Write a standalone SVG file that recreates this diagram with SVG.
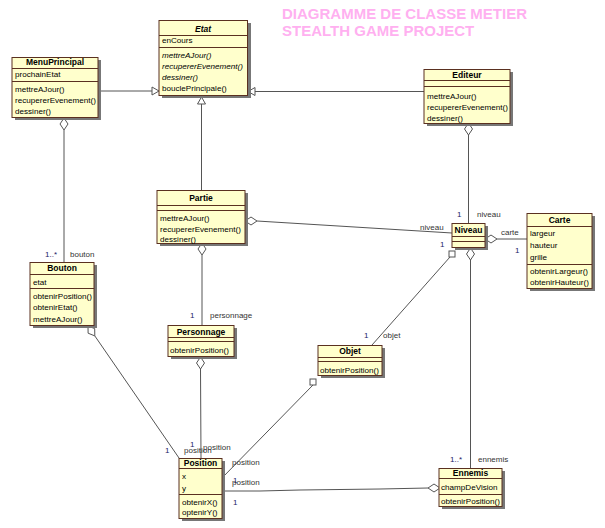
<svg xmlns="http://www.w3.org/2000/svg" width="605" height="528" viewBox="0 0 605 528">
<style>
.bg{fill:#ffffff}
.box{fill:#ffffcc;stroke:#5a3020;stroke-width:1}
.sh{fill:#777777}
.dv{stroke:#5a3020;stroke-width:1}
.t{font-family:"Liberation Sans",Arial,sans-serif;font-size:8.5px;font-weight:bold;text-anchor:middle;fill:#000}
.m{font-family:"Liberation Sans",Arial,sans-serif;font-size:8.1px;fill:#000}
.it{font-style:italic}
.ln{stroke:#555555;stroke-width:1;fill:none}
.dia{fill:#ffffff;stroke:#555555;stroke-width:1}
.lb{font-family:"Liberation Sans",Arial,sans-serif;font-size:8px;fill:#333333}
.n{font-family:"Liberation Sans",Arial,sans-serif;font-size:8px;fill:#1a1a66}
.ttl{font-family:"Liberation Sans",Arial,sans-serif;font-size:15px;font-weight:bold;fill:#ffb0f0}
</style>
<rect class="bg" x="0" y="0" width="605" height="528"/>
<g id="title">
<text class="ttl" x="282" y="19">DIAGRAMME DE CLASSE METIER</text>
<text class="ttl" x="282" y="36">STEALTH GAME PROJECT</text>
</g>
<g id="connectors">
<line class="ln" x1="98" y1="91" x2="152" y2="91"/>
<polygon class="dia" points="159,91 152,87 152,95"/>
<line class="ln" x1="424" y1="91.5" x2="255" y2="91.5"/>
<polygon class="dia" points="248,91.5 255,87.5 255,95.5"/>
<line class="ln" x1="201.5" y1="104" x2="201.5" y2="190"/>
<polygon class="dia" points="201.5,97 197.5,104 205.5,104"/>
<line class="ln" x1="64" y1="130" x2="64" y2="262"/>
<polygon class="dia" points="64,118 68,124 64,130 60,124"/>
<line class="ln" x1="468.5" y1="135" x2="468.5" y2="223"/>
<polygon class="dia" points="468.5,123 472.5,129 468.5,135 464.5,129"/>
<line class="ln" x1="257" y1="221" x2="452" y2="233"/>
<polygon class="dia" points="245,221 251,217 257,221 251,225"/>
<line class="ln" x1="497" y1="239" x2="527" y2="239"/>
<polygon class="dia" points="485,239 491,235 497,239 491,243"/>
<line class="ln" x1="450" y1="257" x2="372" y2="345"/>
<rect class="dia" x="449" y="251" width="6" height="6"/>
<line class="ln" x1="470.5" y1="260" x2="470.5" y2="468"/>
<polygon class="dia" points="470.5,248 474.5,254 470.5,260 466.5,254"/>
<line class="ln" x1="202" y1="255" x2="202" y2="325"/>
<polygon class="dia" points="202,243 206,249 202,255 198,249"/>
<line class="ln" x1="94.8" y1="335.9" x2="179" y2="458"/>
<polygon class="dia" points="88,326 94.7,328.6 94.8,335.9 88.1,333.2"/>
<line class="ln" x1="200.5" y1="369" x2="201" y2="458"/>
<polygon class="dia" points="200.5,357 204.5,363 200.5,369 196.5,363"/>
<line class="ln" x1="313" y1="385" x2="222" y2="478"/>
<rect class="dia" x="310" y="379" width="6" height="6"/>
<polyline class="ln" points="222,491 260,491 300,490 380,489 428,488"/>
<polygon class="dia" points="428,488 434,484 440,488 434,492"/>
</g>
<g id="labels">
<text class="n" x="45" y="257">1..*</text>
<text class="lb" x="70" y="257">bouton</text>
<text class="n" x="457" y="217">1</text>
<text class="lb" x="477" y="217">niveau</text>
<text class="lb" x="420" y="230">niveau</text>
<text class="n" x="440" y="247">1</text>
<text class="lb" x="501" y="234.5">carte</text>
<text class="n" x="515" y="253">1</text>
<text class="n" x="364" y="338">1</text>
<text class="lb" x="383" y="338">objet</text>
<text class="n" x="190" y="318">1</text>
<text class="lb" x="210" y="318">personnage</text>
<text class="n" x="450" y="462">1..*</text>
<text class="lb" x="478" y="462">ennemis</text>
<text class="n" x="165" y="453">1</text>
<text class="lb" x="184" y="453">position</text>
<text class="n" x="190" y="447">1</text>
<text class="lb" x="203" y="450">position</text>
<text class="lb" x="232" y="465">position</text>
<text class="n" x="233" y="483">1</text>
<text class="lb" x="232" y="485">position</text>
<text class="n" x="233" y="505">1</text>
</g>
<g id="Etat">
<rect class="sh" x="162" y="23" width="89" height="75"/>
<rect class="box" x="159" y="20.5" width="88.5" height="75"/>
<line class="dv" x1="159" y1="35.5" x2="247.5" y2="35.5"/>
<line class="dv" x1="159" y1="47.5" x2="247.5" y2="47.5"/>
<text class="t it" x="203" y="31.5">Etat</text>
<text class="m" x="162" y="43">enCours</text>
<text class="m it" x="162" y="57.5">mettreAJour()</text>
<text class="m it" x="162" y="69">recupererEvenement()</text>
<text class="m it" x="162" y="80">dessiner()</text>
<text class="m" x="162" y="91">bouclePrincipale()</text>
</g>
<g id="MenuPrincipal">
<rect class="sh" x="15" y="60" width="86" height="60"/>
<rect class="box" x="12" y="57.5" width="86" height="60"/>
<line class="dv" x1="12" y1="68.5" x2="98" y2="68.5"/>
<line class="dv" x1="12" y1="81.5" x2="98" y2="81.5"/>
<text class="t" x="55" y="65">MenuPrincipal</text>
<text class="m" x="15" y="77">prochainEtat</text>
<text class="m" x="15" y="92">mettreAJour()</text>
<text class="m" x="15" y="103">recupererEvenement()</text>
<text class="m" x="15" y="114">dessiner()</text>
</g>
<g id="Editeur">
<rect class="sh" x="427" y="72" width="86" height="54"/>
<rect class="box" x="424" y="69.5" width="86" height="54"/>
<line class="dv" x1="424" y1="80.5" x2="510" y2="80.5"/>
<line class="dv" x1="424" y1="86.5" x2="510" y2="86.5"/>
<text class="t" x="467" y="78">Editeur</text>
<text class="m" x="427" y="99">mettreAJour()</text>
<text class="m" x="427" y="110">recupererEvenement()</text>
<text class="m" x="427" y="121">dessiner()</text>
</g>
<g id="Partie">
<rect class="sh" x="160" y="193" width="88" height="53"/>
<rect class="box" x="157" y="190.5" width="88" height="53"/>
<line class="dv" x1="157" y1="205.5" x2="245" y2="205.5"/>
<line class="dv" x1="157" y1="210.5" x2="245" y2="210.5"/>
<text class="t" x="201" y="201">Partie</text>
<text class="m" x="160" y="221">mettreAJour()</text>
<text class="m" x="160" y="231.5">recupererEvenement()</text>
<text class="m" x="160" y="242">dessiner()</text>
</g>
<g id="Niveau">
<rect class="sh" x="455" y="226" width="33" height="24"/>
<rect class="box" x="452" y="223.5" width="33" height="24"/>
<line class="dv" x1="452" y1="236.5" x2="485" y2="236.5"/>
<line class="dv" x1="452" y1="241.5" x2="485" y2="241.5"/>
<text class="t" x="468.5" y="233">Niveau</text>
</g>
<g id="Carte">
<rect class="sh" x="530" y="216" width="65" height="75"/>
<rect class="box" x="527" y="213.5" width="65" height="75"/>
<line class="dv" x1="527" y1="226.5" x2="592" y2="226.5"/>
<line class="dv" x1="527" y1="264.5" x2="592" y2="264.5"/>
<text class="t" x="559.5" y="223">Carte</text>
<text class="m" x="530" y="236">largeur</text>
<text class="m" x="530" y="248">hauteur</text>
<text class="m" x="530" y="260">grille</text>
<text class="m" x="530" y="274">obtenirLargeur()</text>
<text class="m" x="530" y="285">obtenirHauteur()</text>
</g>
<g id="Bouton">
<rect class="sh" x="33" y="265" width="64" height="63"/>
<rect class="box" x="30" y="262.5" width="64" height="63"/>
<line class="dv" x1="30" y1="274.5" x2="94" y2="274.5"/>
<line class="dv" x1="30" y1="288.5" x2="94" y2="288.5"/>
<text class="t" x="62" y="271">Bouton</text>
<text class="m" x="33" y="285">etat</text>
<text class="m" x="33" y="299">obtenirPosition()</text>
<text class="m" x="33" y="310">obtenirEtat()</text>
<text class="m" x="33" y="322">mettreAJour()</text>
</g>
<g id="Personnage">
<rect class="sh" x="171" y="328" width="66" height="31"/>
<rect class="box" x="168" y="325.5" width="66" height="31"/>
<line class="dv" x1="168" y1="337.5" x2="234" y2="337.5"/>
<line class="dv" x1="168" y1="341.5" x2="234" y2="341.5"/>
<text class="t" x="201" y="335">Personnage</text>
<text class="m" x="170" y="353">obtenirPosition()</text>
</g>
<g id="Objet">
<rect class="sh" x="321" y="348" width="64" height="30"/>
<rect class="box" x="318" y="345.5" width="64" height="30"/>
<line class="dv" x1="318" y1="357.5" x2="382" y2="357.5"/>
<line class="dv" x1="318" y1="361.5" x2="382" y2="361.5"/>
<text class="t" x="350" y="354">Objet</text>
<text class="m" x="320" y="373">obtenirPosition()</text>
</g>
<g id="Position">
<rect class="sh" x="182" y="461" width="43" height="60"/>
<rect class="box" x="179" y="458.5" width="43" height="60"/>
<line class="dv" x1="179" y1="468.5" x2="222" y2="468.5"/>
<line class="dv" x1="179" y1="494.5" x2="222" y2="494.5"/>
<text class="t" x="200.5" y="466">Position</text>
<text class="m" x="182" y="479">x</text>
<text class="m" x="182" y="491">y</text>
<text class="m" x="182" y="505">obtenirX()</text>
<text class="m" x="182" y="515">optenirY()</text>
</g>
<g id="Ennemis">
<rect class="sh" x="442" y="471" width="63" height="38"/>
<rect class="box" x="439" y="468.5" width="63" height="38"/>
<line class="dv" x1="439" y1="478.5" x2="502" y2="478.5"/>
<line class="dv" x1="439" y1="494.5" x2="502" y2="494.5"/>
<text class="t" x="470.5" y="476">Ennemis</text>
<text class="m" x="441" y="490">champDeVision</text>
<text class="m" x="441" y="504">obtenirPosition()</text>
</g>
</svg>
